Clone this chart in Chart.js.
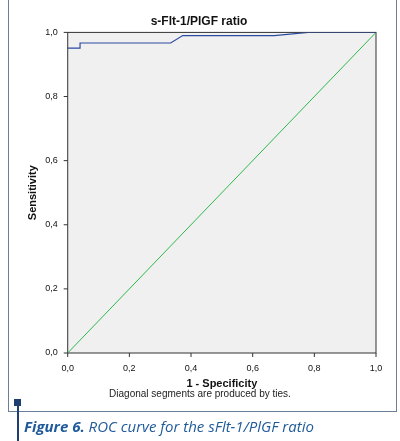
<!DOCTYPE html><html><head><meta charset="utf-8">
<script src="https://cdn.jsdelivr.net/npm/chart.js@4/dist/chart.umd.min.js"></script>
<style>
body{margin:0;background:#fff;width:400px;height:441px;position:relative;font-family:"Liberation Sans",Arial,sans-serif}
#frame{position:absolute;left:8px;top:-1px;width:389px;height:413px;border:1px solid #6b7f99;box-sizing:border-box}
#wrap{position:absolute;left:0;top:0;width:400px;height:399px}
#note{position:absolute;left:0;width:400px;top:388px;text-align:center;font-size:10px;color:#222}
#sq{position:absolute;left:14px;top:399px;width:7px;height:7px;background:#1f3f73}
#vl{position:absolute;left:17px;top:405px;width:1.5px;height:36px;background:#1f3f73}
#cap{position:absolute;left:24px;top:416px;font-family:"Open Sans",sans-serif;font-style:italic;font-size:15px;color:#1f5a9a}
</style></head><body>
<div id="frame"></div>
<div id="wrap"><canvas id="c"></canvas></div>
<div id="note">Diagonal segments are produced by ties.</div>
<div id="sq"></div><div id="vl"></div>
<div id="cap"><b>Figure 6.</b> ROC curve for the sFlt-1/PlGF ratio</div>
<script>
const rocX=[0,0.04,0.04,0.334,0.373,0.67,0.78,1];
const rocY=[0.951,0.951,0.967,0.967,0.99,0.99,1,1];
const refX=[0,1];const refY=[0,1];
const tickLabels=['0,0','0,2','0,4','0,6','0,8','1,0'];
const bg={id:'bg',beforeDraw(ch){const a=ch.chartArea,c=ch.ctx;c.save();c.fillStyle='#f0f0f0';c.fillRect(a.left,a.top,a.right-a.left,a.bottom-a.top);c.strokeStyle='#333';c.lineWidth=1;c.strokeRect(a.left,a.top,a.right-a.left,a.bottom-a.top);c.restore();}};
const tk=v=>tickLabels[Math.round(v*5)];
new Chart(document.getElementById('c'),{type:'scatter',data:{datasets:[
{data:rocX.map((x,i)=>({x,y:rocY[i]})),showLine:true,borderColor:'#2a4aa0',borderWidth:1.2,pointRadius:0},
{data:refX.map((x,i)=>({x,y:refY[i]})),showLine:true,borderColor:'#2eb84a',borderWidth:1,pointRadius:0}]},
options:{responsive:true,maintainAspectRatio:false,animation:false,layout:{padding:{left:22,right:24,top:14,bottom:4}},
plugins:{legend:{display:false},tooltip:{enabled:false},title:{display:true,text:'s-Flt-1/PlGF ratio',font:{family:'Liberation Sans',size:12,weight:'bold'},color:'#111',padding:{top:0,bottom:4}}},
scales:{x:{type:'linear',min:0,max:1,ticks:{stepSize:0.2,callback:tk,font:{size:9},color:'#111',padding:2},grid:{display:false,drawOnChartArea:false},border:{display:false},title:{display:true,text:'1 - Specificity',font:{size:11,weight:'bold'},color:'#111',padding:{top:2}}},
y:{min:0,max:1,ticks:{stepSize:0.2,callback:tk,font:{size:9},color:'#111',padding:2},grid:{display:false},border:{display:false},title:{display:true,text:'Sensitivity',font:{size:11,weight:'bold'},color:'#111'}}}},
plugins:[bg,{id:'ticks',afterDraw(ch){const c=ch.ctx,a=ch.chartArea;c.save();c.strokeStyle='#333';c.beginPath();for(let i=0;i<=5;i++){const x=ch.scales.x.getPixelForValue(i/5),y=ch.scales.y.getPixelForValue(i/5);c.moveTo(x,a.bottom);c.lineTo(x,a.bottom+4);c.moveTo(a.left,y);c.lineTo(a.left-4,y);}c.stroke();c.restore();}}]});
</script></body></html>
